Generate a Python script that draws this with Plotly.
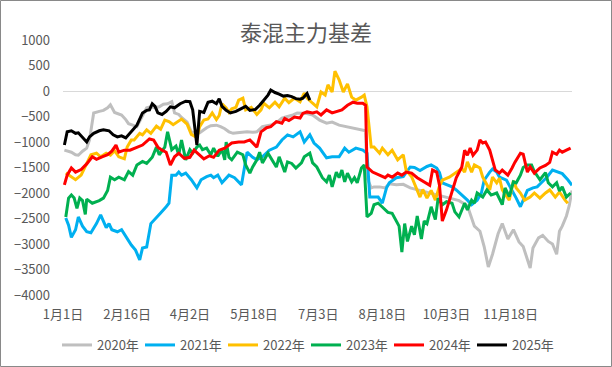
import pandas as pd
import plotly.graph_objects as go

# Day-of-year offsets (from Jan 1) and basis values for each year
d2020 = [1,4,6,9,11,14,17,19,22,26,29,32,34,37,40,42,45,47,50,53,56,60,63,66,69,72,75,78,80,83,85,89,92,95,98,101,103,106,110,113,116,119,122,125,129,132,136,139,143,147,150,154,157,161,165,168,172,175,179,184,189,193,198,203,208,213,217,218,221,223,227,231,234,239,244,249,256,263,270,277,284,290,292,295,299,302,305,308,312,315,319,323,327,330,335,337,341,344,348,351,354,356,358,361,363,365]
v2020 = [-1160,-1180,-1200,-1250,-1260,-1180,-1120,-960,-430,-400,-380,-330,-270,-420,-450,-470,-560,-640,-670,-700,-540,-330,-310,-330,-310,-260,-250,-210,-430,-460,-520,-610,-800,-830,-820,-760,-720,-680,-670,-700,-740,-800,-830,-820,-810,-800,-810,-800,-700,-680,-660,-600,-530,-500,-470,-430,-430,-440,-470,-570,-630,-610,-670,-700,-720,-760,-780,-1700,-1900,-1880,-1880,-1900,-1820,-1840,-1830,-1900,-1950,-2000,-2050,-2100,-2150,-2250,-2400,-2650,-2750,-3050,-3450,-3200,-2800,-2600,-2900,-2720,-2960,-3050,-3470,-3080,-2880,-2830,-2950,-3000,-3200,-2750,-2650,-2450,-2250,-1950]

d2021 = [2,4,6,9,11,14,17,20,24,27,31,33,35,39,42,45,49,52,55,57,60,63,67,70,74,76,78,81,83,85,88,92,96,99,103,106,108,111,114,119,123,125,128,132,136,139,143,148,153,157,161,165,170,173,177,180,184,189,193,198,202,205,210,215,218,220,226,229,232,234,239,244,249,252,256,261,264,268,270,272,276,279,282,284,288,290,293,297,300,302,306,308,311,313,318,322,325,328,330,333,337,340,343,347,351,355,358,362,365]
v2021 = [-2490,-2630,-2870,-2720,-2470,-2650,-2760,-2780,-2600,-2430,-2680,-2600,-2720,-2760,-2720,-2850,-3020,-3120,-3310,-3080,-3060,-2600,-2470,-2390,-2270,-2200,-1650,-1650,-1590,-1650,-1610,-1740,-1900,-1740,-1680,-1650,-1700,-1650,-1800,-1650,-1700,-1760,-1840,-1200,-1300,-1350,-1290,-1160,-1100,-960,-860,-900,-800,-1000,-860,-1020,-1120,-1310,-1290,-1290,-1120,-1200,-1120,-1160,-1220,-2080,-2080,-2200,-1900,-1800,-1700,-1680,-1490,-1500,-1560,-1480,-1450,-1510,-1600,-1800,-1840,-1880,-1940,-1990,-2080,-2140,-2230,-2140,-2000,-1750,-1590,-1530,-1590,-1690,-1750,-1940,-2100,-2270,-2150,-1950,-1900,-1880,-1800,-1690,-1550,-1590,-1620,-1740,-1850]

d2022 = [2,6,9,13,17,20,24,27,31,34,37,40,44,46,49,51,55,57,60,63,67,70,73,76,79,82,85,89,92,96,98,101,104,107,110,112,114,117,119,121,124,126,129,131,135,139,142,144,148,152,155,159,162,166,170,173,175,179,182,185,188,190,193,195,198,201,204,207,210,214,216,218,221,223,227,229,233,236,240,244,246,250,253,256,258,261,264,267,270,272,277,282,286,288,290,293,295,299,301,304,306,308,311,313,315,320,323,325,328,331,335,338,342,346,349,353,356,360,362]
v2022 = [-1610,-1690,-1740,-1650,-1410,-1250,-1220,-1290,-1220,-1260,-1170,-1290,-1330,-1100,-960,-960,-830,-860,-760,-830,-690,-750,-570,-600,-660,-600,-550,-650,-850,-910,-700,-570,-550,-430,-560,-480,-250,-330,-420,-350,-320,-180,-140,-370,-320,-460,-370,-240,-330,-220,-310,-140,-230,-140,-210,-40,-140,-240,-310,-20,-80,120,-20,390,220,-20,140,-120,-180,-120,-80,-310,-1100,-1100,-1220,-1120,-1250,-1160,-1350,-1250,-1550,-1680,-1900,-2080,-1930,-2100,-1950,-2140,-1860,-1750,-1690,-1590,-1520,-1590,-1390,-1590,-1450,-1510,-1690,-1840,-1940,-1690,-1800,-1710,-1940,-2140,-1760,-1900,-2000,-2140,-2080,-2000,-2100,-2000,-1940,-2080,-1980,-2140,-2200]

d2023 = [2,4,6,8,10,12,14,16,17,21,26,29,32,34,37,40,44,47,50,53,57,60,64,67,69,73,75,78,81,83,85,88,91,93,96,98,100,103,106,108,111,114,116,117,119,121,125,129,131,134,136,139,141,143,147,150,153,155,159,161,164,167,171,173,177,179,182,186,189,191,193,196,198,200,202,204,207,209,211,214,216,218,221,223,226,228,231,233,236,239,241,243,245,247,250,252,254,257,259,261,264,267,269,272,275,279,281,284,288,290,293,295,297,301,304,307,311,315,317,320,323,325,328,330,333,336,338,342,346,348,351,354,356,358,361,364]
v2023 = [-2470,-2100,-2040,-2100,-2300,-2100,-2150,-2420,-2120,-2200,-2150,-2100,-1950,-1690,-1740,-1690,-1740,-1580,-1650,-1450,-1380,-1420,-1300,-1100,-1250,-1100,-800,-1150,-1080,-1250,-960,-1350,-1150,-1220,-1100,-1060,-1150,-1120,-1250,-1120,-1280,-1150,-1350,-1000,-1300,-1350,-1200,-1250,-1450,-1610,-1490,-1350,-1200,-1410,-1220,-1350,-1490,-1290,-1590,-1390,-1420,-1510,-1410,-1290,-1220,-1410,-1490,-1700,-1780,-1650,-1880,-1590,-1700,-1550,-1780,-1610,-1780,-1700,-1800,-1510,-1450,-2470,-2400,-2230,-2200,-2250,-2320,-2380,-2400,-2550,-2650,-3160,-2600,-2950,-2650,-2820,-2450,-2900,-2550,-2600,-2270,-2520,-2100,-2230,-2170,-2200,-2370,-2470,-2200,-2330,-2140,-2200,-2000,-2080,-1940,-2040,-2000,-2230,-1900,-2070,-1780,-1800,-1650,-1500,-1450,-1450,-1580,-1740,-1600,-1800,-1880,-1800,-1960,-1880,-2080,-2000]

d2024 = [1,3,6,9,13,17,21,24,28,32,35,38,40,44,48,52,57,62,65,68,71,74,77,80,83,87,91,94,98,101,105,108,112,116,121,126,130,134,139,142,146,149,153,157,159,162,166,170,172,175,179,182,185,189,193,196,200,204,208,211,215,217,218,222,227,231,233,236,240,243,246,250,254,257,261,263,265,268,270,272,275,279,282,286,288,290,292,294,297,299,301,303,306,310,313,315,319,322,324,328,330,333,335,338,342,346,349,351,354,356,358,361,364]
v2024 = [-1840,-1650,-1510,-1590,-1540,-1430,-1290,-1340,-1290,-1250,-1180,-1060,-1200,-1160,-1160,-1120,-1060,-940,-960,-1100,-1160,-1200,-1450,-1290,-1220,-1320,-1300,-1160,-1250,-1330,-1270,-1300,-1160,-1120,-1020,-1000,-1000,-960,-1100,-800,-720,-700,-600,-630,-540,-580,-510,-530,-440,-410,-430,-410,-470,-370,-430,-410,-370,-280,-220,-240,-240,-280,-1490,-1590,-1650,-1700,-1650,-1690,-1610,-1650,-1590,-1610,-1700,-1750,-1800,-1850,-1550,-1590,-1850,-2550,-2330,-1950,-1700,-1490,-1160,-1260,-1120,-1260,-1160,-960,-1020,-1000,-1160,-1550,-1610,-1550,-1650,-1510,-1400,-1220,-1240,-1590,-1490,-1610,-1510,-1460,-1400,-1200,-1240,-1160,-1200,-1160,-1120]

d2025 = [1,3,6,9,11,14,17,19,22,26,29,33,36,39,42,45,47,50,53,57,60,62,64,66,68,71,74,77,80,84,88,91,93,96,98,101,104,107,110,112,114,117,120,124,127,131,134,138,141,144,147,149,152,155,158,161,164,167,170,172,175,177]
v2025 = [-1060,-800,-780,-830,-820,-900,-1000,-900,-830,-780,-760,-780,-860,-900,-880,-920,-860,-780,-670,-430,-380,-370,-250,-300,-430,-460,-400,-310,-330,-250,-200,-210,-370,-1060,-400,-420,-220,-200,-250,-150,-300,-380,-430,-400,-350,-300,-380,-360,-280,-180,-80,20,-30,-60,-100,-90,-110,-150,-160,-140,-50,-180]

years = ["2020年", "2021年", "2022年", "2023年", "2024年", "2025年"]
days = [d2020, d2021, d2022, d2023, d2024, d2025]
vals = [v2020, v2021, v2022, v2023, v2024, v2025]
colors = ["#BFBFBF", "#00B0F0", "#FFC000", "#00B050", "#FF0000", "#000000"]

tick_dates = ["2021-01-01", "2021-02-16", "2021-04-02", "2021-05-18",
              "2021-07-03", "2021-08-18", "2021-10-03", "2021-11-18"]
tick_text = ["1月1日", "2月16日", "4月2日", "5月18日", "7月3日", "8月18日", "10月3日", "11月18日"]
y_ticks = list(range(-4000, 1001, 500))

base = pd.Timestamp("2021-01-01")

fig = go.Figure()
for name, d, v, c in zip(years, days, vals, colors):
    x = [base + pd.Timedelta(days=int(k)) for k in d]
    fig.add_trace(go.Scatter(x=x, y=v, mode="lines", name=name,
                             line=dict(color=c, width=3)))

W, H = 612, 367
ml, mr, mt, mb = 63, 40, 40, 72
pw, ph = W - ml - mr, H - mt - mb

font = "Noto Sans CJK SC, Noto Sans, sans-serif"
fig.update_layout(
    width=W, height=H,
    margin=dict(l=ml, r=mr, t=mt, b=mb, autoexpand=False),
    paper_bgcolor="white", plot_bgcolor="white",
    font=dict(family=font, size=13, color="#595959"),
    title=dict(text="泰混主力基差", x=0.5, xref="container", xanchor="center",
               y=1 - 33 / H, yref="container", yanchor="middle",
               font=dict(size=22, color="#595959")),
    showlegend=True,
    legend=dict(orientation="h", xref="container", x=0.5, xanchor="center",
                yref="paper", y=-(345 - (H - mb)) / ph, yanchor="middle",
                font=dict(size=13, color="#595959"), itemwidth=30,
                entrywidth=38, entrywidthmode="pixels",
                traceorder="normal", bgcolor="rgba(0,0,0,0)"),
    xaxis=dict(type="date", range=["2021-01-01", "2022-01-01"],
               tickmode="array", tickvals=tick_dates, ticktext=tick_text,
               showgrid=False, zeroline=False, showline=False, ticks="",
               ticklabelstandoff=10, tickfont=dict(size=13, color="#595959")),
    yaxis=dict(range=[-4000, 1000], tickmode="array", tickvals=y_ticks,
               showgrid=False, zeroline=True, zerolinecolor="#D9D9D9", zerolinewidth=1,
               showline=False, ticks="", ticklabelstandoff=12,
               tickfont=dict(size=13, color="#595959")),
    shapes=[dict(type="rect", xref="paper", yref="paper",
                 x0=-(ml - 0.5) / pw, x1=1 + (mr - 0.5) / pw,
                 y0=-(mb - 0.5) / ph, y1=1 + (mt - 0.5) / ph,
                 line=dict(color="#898989", width=1), fillcolor="rgba(0,0,0,0)", layer="below")],
)

fig.write_html("out.html", config={"displayModeBar": False},
               post_script="document.body.style.margin='0';document.body.style.overflow='hidden';")
